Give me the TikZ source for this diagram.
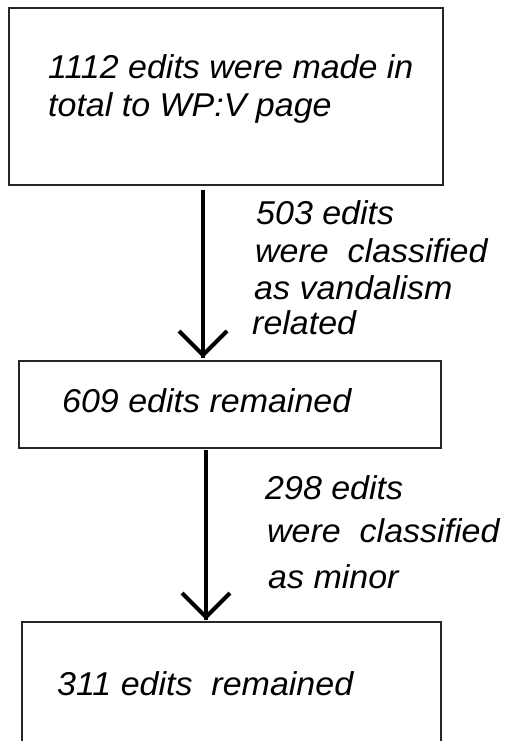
\documentclass[tikz,border=0pt]{standalone}
\usepackage{fontspec}
\setmainfont{Liberation Sans}[FakeStretch=1.03]
\begin{document}
\begin{tikzpicture}[x=1pt,y=-1pt,
  box/.style={draw=black!85, line width=1.6pt, anchor=north west, inner sep=0pt},
  txt/.style={anchor=base west, inner sep=0pt, font=\fontsize{33}{38}\selectfont\itshape, text=black},
  shaft/.style={line width=4.5pt, black},
  head/.style={line width=4pt, black, line join=miter}]
\useasboundingbox (0,0) rectangle (505,741);
\clip (0,0) rectangle (505,741);
% boxes
\node[box, minimum width=434pt, minimum height=177pt] (b1) at (8,7) {};
\node[box, minimum width=422pt, minimum height=87pt] (b2) at (18,360) {};
\node[box, minimum width=419pt, minimum height=160pt] (b3) at (21,621) {};
% box texts
\node[txt] (t1a) at (48,79) {1112 edits were made in};
\node[txt] (t1b) at (48,117) {total to WP:V page};
\node[txt] (t2) at (62,412) {609 edits remained};
\node[txt] (t3) at (57,695) {311 edits\ \ remained};
% labels
\node[txt] (l1a) at (256,224) {503 edits};
\node[txt] (l1b) at (255,262) {were\ \ classified};
\node[txt] (l1c) at (254,299) {as vandalism};
\node[txt] (l1d) at (252,334) {related};
\node[txt] (l2a) at (265,499) {298 edits};
\node[txt] (l2b) at (267,542) {were\ \ classified};
\node[txt] (l2c) at (268,588) {as minor};
% arrows
\coordinate (a1s) at (203,190);
\coordinate (a1e) at (203,355);
\coordinate (a2s) at (206,450);
\coordinate (a2e) at (206,617);
\draw[shaft] (a1s) -- ([yshift=-3pt]a1e);
\draw[head] ([shift={(-24,-24)}]a1e) -- (a1e) -- ([shift={(24,-24)}]a1e);
\draw[shaft] (a2s) -- ([yshift=-3pt]a2e);
\draw[head] ([shift={(-24,-24)}]a2e) -- (a2e) -- ([shift={(24,-24)}]a2e);
\end{tikzpicture}
\end{document}
